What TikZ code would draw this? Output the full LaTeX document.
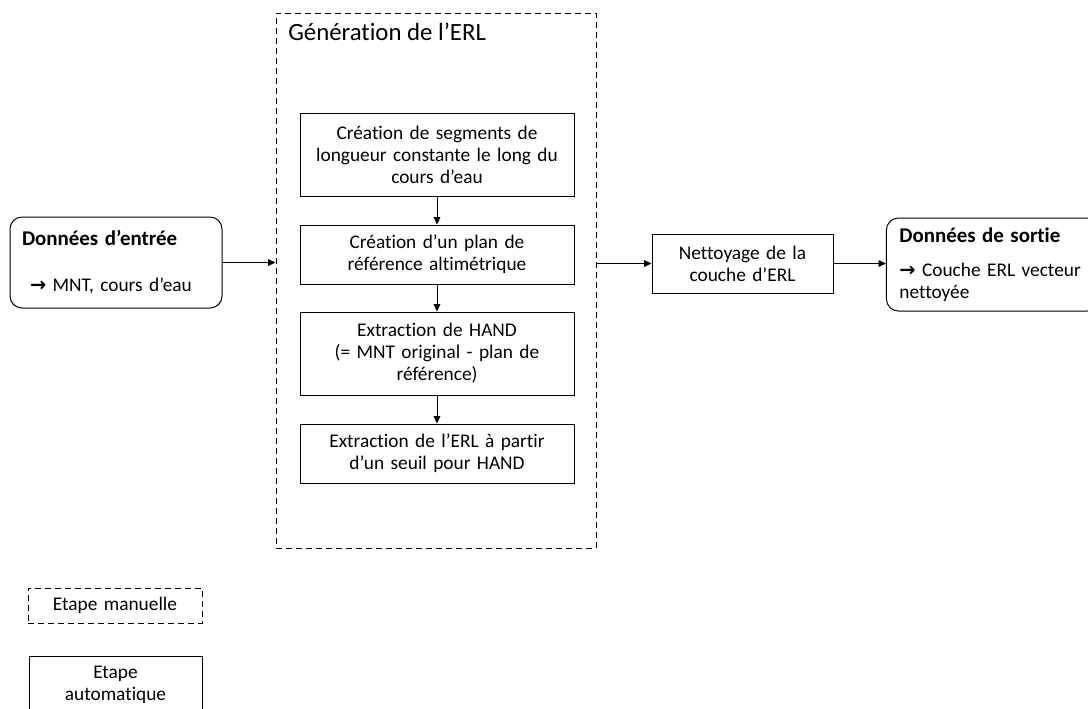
\documentclass[tikz,border=0pt]{standalone}
\usepackage{fontspec}
\setmainfont{Carlito}[Ligatures={TeX,NoCommon}]
\newfontfamily\flechefont{DejaVu Sans Bold}
\usetikzlibrary{arrows.meta}
\newcommand{\fleche}{{\flechefont →}}
\tikzset{
  texte/.style={font=\fontsize{14.5}{16.5}\selectfont},
  etape/.style={texte, draw, line width=0.75pt, align=center, inner sep=0pt},
  manuelle/.style={etape, dashed, dash pattern=on 4.5pt off 3pt},
  donnees/.style={texte, draw, line width=0.75pt, rounded corners=9pt, align=left, inner ysep=0pt},
  lien/.style={-{Triangle[length=5.5pt,width=5pt]}, line width=0.5pt},
}
\begin{document}
\begin{tikzpicture}[x=0.75pt,y=-0.75pt]
    \useasboundingbox (0,0) rectangle (1088,708);

    % donnees d'entree
    \node[donnees, inner xsep=9pt, text width=141pt, minimum height=68.25pt] (entree) at (116,262.5)
      {{\fontsize{15.7}{18}\selectfont\bfseries Données d’entrée}\\[18pt]\hspace{6pt}\fleche{} MNT, cours d’eau};

    % generation de l'ERL
    \node[manuelle, minimum width=240pt, minimum height=401.25pt] (gen) at (436,280.5) {};
    \node[texte, font=\fontsize{18.6}{21}\selectfont, anchor=base west, inner sep=0pt] (titre) at (288,40) {Génération de l’ERL};

    \node[etape, text width=205.5pt, minimum height=62.25pt] (seg) at (437,154.5)
      {Création de segments de\\longueur constante le long du\\cours d’eau};
    \node[etape, text width=205.5pt, minimum height=44.25pt] (plan) at (437,254.5)
      {Création d’un plan de\\référence altimétrique};
    \node[etape, text width=205.5pt, minimum height=62.25pt] (hand) at (437,353.5)
      {Extraction de HAND\\(= MNT original - plan de\\référence)};
    \node[etape, text width=205.5pt, minimum height=44.25pt] (seuil) at (437,453.5)
      {Extraction de l’ERL à partir\\d’un seuil pour HAND};

    % nettoyage et sortie
    \node[etape, text width=135.75pt, minimum height=44.25pt] (nettoyage) at (742.5,263.5)
      {Nettoyage de la\\couche d’ERL};
    \node[donnees, inner xsep=9.75pt, text width=140pt, minimum height=69.75pt] (sortie) at (992.75,264.5)
      {{\fontsize{15.7}{18}\selectfont\bfseries Données de sortie}\\[9pt]\fleche{} Couche ERL vecteur\\nettoyée};

    % liens
    \draw[lien] (entree) -- (entree -| gen.west);
    \draw[lien] (seg) -- (plan);
    \draw[lien] (plan) -- (hand);
    \draw[lien] (hand) -- (seuil);
    \draw[lien] (gen.east |- nettoyage) -- (nettoyage);
    \draw[lien] (nettoyage) -- (nettoyage -| sortie.west);

    % legende
    \node[manuelle, text width=130.5pt, minimum height=26.25pt] (legman) at (115,605.5) {Etape manuelle};
    \node[etape, text width=129.75pt, minimum height=42.75pt] (legauto) at (115.5,685) {Etape\\automatique};
\end{tikzpicture}
\end{document}
